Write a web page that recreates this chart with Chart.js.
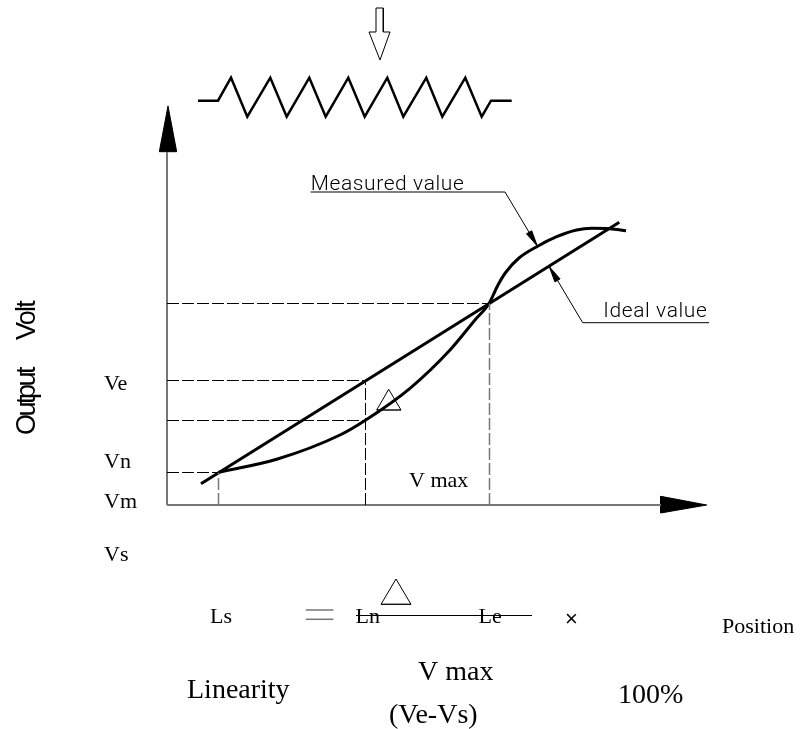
<!DOCTYPE html>
<html>
<head>
<meta charset="utf-8">
<title>Linearity</title>
<script src="https://cdn.jsdelivr.net/npm/chart.js@4/dist/chart.umd.min.js"></script>
<style>
  html, body { margin: 0; padding: 0; background: #fff; }
  #wrap { width: 800px; height: 729px; }
</style>
</head>
<body>
<div id="wrap"><canvas id="linearityChart"></canvas></div>
<script>
// Curves (position / output volt, origin at the axes corner)
const idealX = [34, 452.3];
const idealY = [21.3, 282.7];
const measuredX = [51.7, 109.7, 173, 198, 243, 283, 308, 322, 331, 339, 352, 369.7, 389.7, 409.7, 424.7, 443, 459];
const measuredY = [32.7, 45.7, 70, 84.5, 116.7, 155, 185, 201.5, 220, 233, 247, 258.3, 268.3, 275, 276.7, 276.3, 274.3];

// Dashed guides
const levelY = [201.5, 124.5, 84.5, 32.5];
const levelEndX = [322, 198, 198, 51.7];
const stopX = [51.5, 198.5, 322.5];
const stopTopY = [32.7, 124, 201.5];

// Potentiometer symbol above the plot
const resistorX = [31, 51, 64, 80.3, 103.3, 119.7, 142.3, 158.7, 181.3, 197.7, 220.3, 236.3, 259.3, 275.3, 298.3, 314.7, 324, 344.7];
const resistorY = [404.3, 404.3, 427.3, 388.3, 427.3, 388.3, 427.3, 388.3, 427.3, 388.3, 427.3, 388.3, 427.3, 388.3, 427.3, 388.3, 404.3, 404.3];
const wiperX = [209, 216.3, 216.3, 223, 213, 202, 209, 209];
const wiperY = [497, 497, 473, 473, 445, 473, 473, 497];

// Axes and arrow heads
const yAxisX = [0, 0];
const yAxisY = [0, 353];
const yHeadX = [-7.7, 9.7, 1, -7.7];
const yHeadY = [353.3, 353.3, 399, 353.3];
const xAxisX = [0, 494];
const xAxisY = [0, 0];
const xHeadX = [493.7, 493.7, 539.7, 493.7];
const xHeadY = [8.7, -8, 0, 8.7];

// Leaders for the two curve callouts
const measuredLeaderX = [143.7, 338, 370.3];
const measuredLeaderY = [313, 313, 259];
const measuredHeadX = [370.3, 364.7, 359.5, 370.3];
const measuredHeadY = [259, 274.2, 271.2, 259];
const idealLeaderX = [542, 415.7, 382.3];
const idealLeaderY = [182.3, 182.3, 238.3];
const idealHeadX = [382.3, 393.1, 387.9, 382.3];
const idealHeadY = [238.3, 226.1, 223.1, 238.3];

// Delta marks, fraction bar and equals sign of the formula
const deltaPlotX = [209.7, 221.7, 234, 209.7];
const deltaPlotY = [95, 115.7, 95, 95];
const deltaPlotBaseX = [209.7, 234];
const deltaPlotBaseY = [95, 95];
const deltaFormulaX = [214, 229, 244, 214];
const deltaFormulaY = [-99.3, -74, -99.3, -99.3];
const deltaFormulaBaseX = [214, 244];
const deltaFormulaBaseY = [-99.3, -99.3];
const barX = [189, 365];
const barY = [-110.5, -110.5];
const equalTopX = [138.8, 166.5];
const equalTopY = [-105, -105];
const equalBottomX = [138.8, 166.5];
const equalBottomY = [-114.3, -114.3];

// Text
const serifLabels = ['Ve', 'Vn', 'Vm', 'Vs', 'V max', 'Ls', 'Ln', 'Le', 'Position'];
const serifX = [-63, -63, -63, -63, 242, 43, 188.6, 311.6, 555];
const serifY = [115, 37, -2.7, -56, 18.3, -118, -118, -118, -128];
const bigLabels = ['V max', 'Linearity', '100%', '(Ve-Vs)'];
const bigX = [251, 20, 451, 222];
const bigY = [-175, -193, -198, -218];
const cadLabels = ['Measured value', 'Ideal value'];
const cadX = [143.7, 436.3];
const cadY = [315, 188.3];

const BLACK = '#000';
const GREY = '#777';

function toPoints(xs, ys) {
  return xs.map((x, i) => ({ x, y: ys[i] }));
}

function stroke(xs, ys, color, width, extra = {}) {
  return { data: toPoints(xs, ys), borderColor: color, borderWidth: width, pointRadius: 0, fill: false, tension: 0, ...extra };
}

function solid(xs, ys) {
  return stroke(xs, ys, BLACK, 1, { fill: 'shape', backgroundColor: BLACK });
}

const DASH = { borderDash: [12, 3] };
const guides = [];
levelY.forEach((y, i) => guides.push(stroke([0, levelEndX[i]], [y, y], BLACK, 1, DASH)));
stopX.forEach((x, i) => guides.push(stroke([x, x], [0, stopTopY[i]], i === 1 ? BLACK : GREY, i === 1 ? 1 : 1.5, DASH)));

// Draws the labels at their data positions through the chart's scales
const textPlugin = {
  id: 'diagramText',
  afterDatasetsDraw(chart) {
    const { ctx, scales } = chart;
    const put = (text, x, y, font, spacing = '0px') => {
      ctx.font = font;
      ctx.letterSpacing = spacing;
      ctx.fillText(text, scales.x.getPixelForValue(x), scales.y.getPixelForValue(y));
    };
    ctx.save();
    ctx.fillStyle = BLACK;
    ctx.textBaseline = 'alphabetic';
    ctx.textAlign = 'left';
    serifLabels.forEach((t, i) => put(t, serifX[i], serifY[i], '22px "Liberation Serif"'));
    bigLabels.forEach((t, i) => put(t, bigX[i], bigY[i], '28px "Liberation Serif"'));
    cadLabels.forEach((t, i) => put(t, cadX[i], cadY[i], '300 21px Roboto', '0.6px'));
    put('\u00d7', 398, -121, '22px "Liberation Sans"');
    ctx.restore();

    // Rotated axis title
    ctx.save();
    ctx.fillStyle = BLACK;
    ctx.translate(scales.x.getPixelForValue(-132), scales.y.getPixelForValue(70));
    ctx.rotate(-Math.PI / 2);
    ctx.font = '27px "Liberation Sans"';
    ctx.letterSpacing = '-2.5px';
    ctx.fillText('Output', 0, 0);
    ctx.letterSpacing = '-1.8px';
    ctx.fillText('Volt', 95, 0);
    ctx.restore();
  }
};

new Chart(document.getElementById('linearityChart'), {
  type: 'line',
  data: {
    datasets: [
      ...guides,
      stroke(yAxisX, yAxisY, GREY, 2),
      stroke(xAxisX, xAxisY, GREY, 2),
      solid(yHeadX, yHeadY),
      solid(xHeadX, xHeadY),
      stroke(resistorX, resistorY, BLACK, 2.5),
      stroke(wiperX, wiperY, BLACK, 1),
      stroke(idealX, idealY, BLACK, 3),
      stroke(measuredX, measuredY, BLACK, 3, { cubicInterpolationMode: 'monotone' }),
      stroke(measuredLeaderX, measuredLeaderY, BLACK, 1),
      solid(measuredHeadX, measuredHeadY),
      stroke(idealLeaderX, idealLeaderY, BLACK, 1),
      solid(idealHeadX, idealHeadY),
      stroke(deltaPlotX, deltaPlotY, BLACK, 1),
      stroke(deltaPlotBaseX, deltaPlotBaseY, GREY, 1.5),
      stroke(deltaFormulaX, deltaFormulaY, BLACK, 1),
      stroke(deltaFormulaBaseX, deltaFormulaBaseY, GREY, 1.5),
      stroke(barX, barY, BLACK, 1),
      stroke(equalTopX, equalTopY, GREY, 1.5),
      stroke(equalBottomX, equalBottomY, GREY, 1.5)
    ]
  },
  options: {
    responsive: true,
    maintainAspectRatio: false,
    animation: false,
    layout: { padding: 0 },
    scales: {
      x: { type: 'linear', display: false, min: -167, max: 633 },
      y: { type: 'linear', display: false, min: -224, max: 505 }
    },
    plugins: { legend: { display: false }, tooltip: { enabled: false } }
  },
  plugins: [textPlugin]
});
</script>
</body>
</html>
